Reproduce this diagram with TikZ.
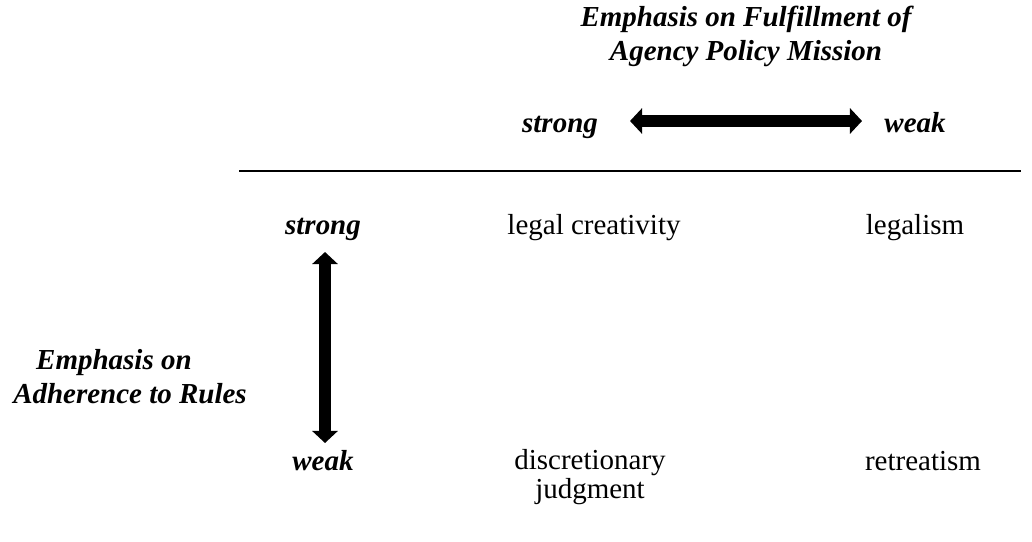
\documentclass[tikz,border=0pt]{standalone}
\usepackage{fontspec}
\setmainfont{Liberation Serif}
\usetikzlibrary{arrows.meta}

\begin{document}
\begin{tikzpicture}[x=0.414pt, y=-0.414pt,
    axislabel/.style={font=\fontsize{12}{13.8}\selectfont\bfseries\itshape, anchor=base},
    cell/.style={font=\fontsize{12}{11.6}\selectfont, anchor=base, align=center},
    bigarrow/.style={line width=5pt, >={Triangle[width=10.4pt,length=5pt]}, <->}]
    \useasboundingbox (0,0) rectangle (1032,541);

    % Mission axis
    \node[axislabel, align=center] (mission) at (746,60) {Emphasis on Fulfillment of\\Agency Policy Mission};
    \node[axislabel] (strongT) at (560,132) {strong};
    \node[axislabel] (weakT) at (915,132) {weak};
    \coordinate (hl) at (630,121);
    \coordinate (hr) at (862,121);
    \draw[bigarrow] (hl) -- (hr);

    % Rule under the heading
    \coordinate (ruleL) at (239,171);
    \coordinate (ruleR) at (1021,171);
    \draw[line width=1pt] (ruleL) -- (ruleR);

    % Rules axis
    \node[axislabel, align=left] (rules) at (130,403) {\hspace*{9.5pt}Emphasis on\\Adherence to Rules};
    \node[axislabel] (strongL) at (323,234) {strong};
    \node[axislabel] (weakL) at (323,470) {weak};
    \coordinate (vt) at (325,252);
    \coordinate (vb) at (325,443);
    \draw[bigarrow] (vt) -- (vb);

    % The four cells
    \node[cell] (creativity) at (594,234) {legal creativity};
    \node[cell] (legalism) at (915,234) {legalism};
    \node[cell] (discretion) at (590,498) {discretionary\\judgment};
    \node[cell] (retreatism) at (923,470) {retreatism};
\end{tikzpicture}
\end{document}
